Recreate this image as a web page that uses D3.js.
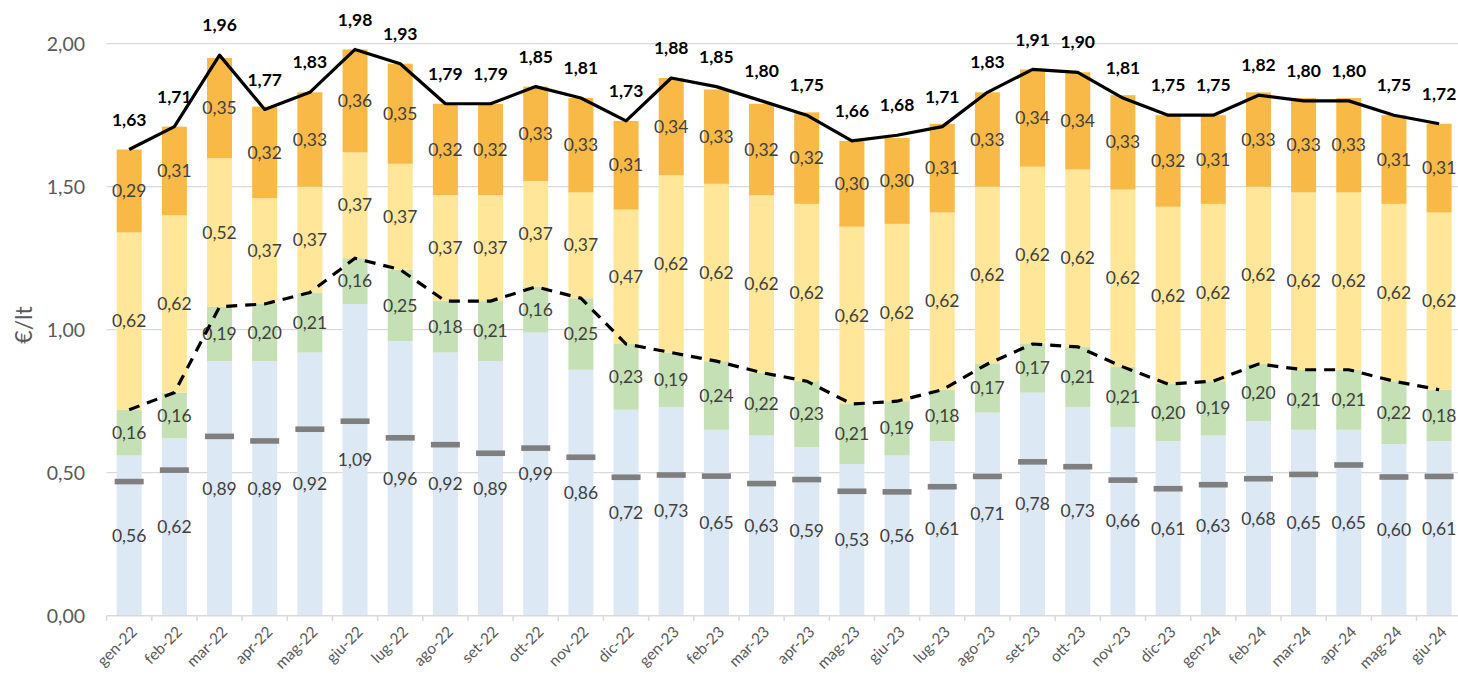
<!DOCTYPE html>
<html><head><meta charset="utf-8">
<script src="https://cdn.jsdelivr.net/npm/d3@7"></script>
<style>body{margin:0;background:#fff}svg{display:block}text{font-family:Lato,"Open Sans",sans-serif}</style>
</head><body><svg id="c" width="1458" height="688"></svg>
<script>
const categories = ["gen-22","feb-22","mar-22","apr-22","mag-22","giu-22","lug-22","ago-22","set-22","ott-22","nov-22","dic-22","gen-23","feb-23","mar-23","apr-23","mag-23","giu-23","lug-23","ago-23","set-23","ott-23","nov-23","dic-23","gen-24","feb-24","mar-24","apr-24","mag-24","giu-24"];
const blueVals = [0.56,0.62,0.89,0.89,0.92,1.09,0.96,0.92,0.89,0.99,0.86,0.72,0.73,0.65,0.63,0.59,0.53,0.56,0.61,0.71,0.78,0.73,0.66,0.61,0.63,0.68,0.65,0.65,0.60,0.61];
const greenVals = [0.16,0.16,0.19,0.20,0.21,0.16,0.25,0.18,0.21,0.16,0.25,0.23,0.19,0.24,0.22,0.23,0.21,0.19,0.18,0.17,0.17,0.21,0.21,0.20,0.19,0.20,0.21,0.21,0.22,0.18];
const yellowVals = [0.62,0.62,0.52,0.37,0.37,0.37,0.37,0.37,0.37,0.37,0.37,0.47,0.62,0.62,0.62,0.62,0.62,0.62,0.62,0.62,0.62,0.62,0.62,0.62,0.62,0.62,0.62,0.62,0.62,0.62];
const orangeVals = [0.29,0.31,0.35,0.32,0.33,0.36,0.35,0.32,0.32,0.33,0.33,0.31,0.34,0.33,0.32,0.32,0.30,0.30,0.31,0.33,0.34,0.34,0.33,0.32,0.31,0.33,0.33,0.33,0.31,0.31];
const totalVals = [1.63,1.71,1.96,1.77,1.83,1.98,1.93,1.79,1.79,1.85,1.81,1.73,1.88,1.85,1.80,1.75,1.66,1.68,1.71,1.83,1.91,1.90,1.81,1.75,1.75,1.82,1.80,1.80,1.75,1.72];
const greyVals = [0.469,0.509,0.627,0.611,0.652,0.680,0.622,0.598,0.568,0.586,0.554,0.484,0.492,0.488,0.462,0.476,0.435,0.433,0.451,0.487,0.538,0.521,0.474,0.444,0.458,0.479,0.494,0.527,0.485,0.487];
const yTicks = [0,0.5,1.0,1.5,2.0];

const fmt = v => d3.format(".2f")(v).replace(".", ",");
const svg = d3.select("#c");
const x = d3.scaleBand().domain(categories).range([106.6, 1461.7]).padding(0);
const y = d3.scaleLinear().domain([0, 2]).range([615.7, 43.7]);
const bw = 25;
const cx = c => x(c) + x.bandwidth() / 2;

// gridlines
svg.append("g").selectAll("line").data(yTicks.filter(d => d > 0)).join("line")
  .attr("x1", 106.6).attr("x2", 1458).attr("y1", d => y(d)).attr("y2", d => y(d))
  .attr("stroke", "#d9d9d9").attr("stroke-width", 1.3);

// y labels
svg.append("g").selectAll("text").data(yTicks).join("text")
  .attr("x", 85).attr("y", d => y(d)).attr("dy", "0.35em").attr("text-anchor", "end")
  .attr("font-size", 19.5).attr("fill", "#595959").text(d => fmt(d));
svg.append("text").attr("transform", "translate(32,325) rotate(-90)").attr("text-anchor", "middle")
  .attr("font-size", 23).attr("fill", "#595959").text("€/lt");

// stacked bars
const series = [
  {vals: blueVals, color: "#dde8f5"},
  {vals: greenVals, color: "#c5e0b4"},
  {vals: yellowVals, color: "#ffe699"},
  {vals: orangeVals, color: "#f9b946"}
];
const bars = svg.append("g");
const labels = svg.append("g");
categories.forEach((c, i) => {
  let base = 0;
  series.forEach(s => {
    const v = s.vals[i];
    bars.append("rect").attr("x", cx(c) - bw / 2).attr("width", bw)
      .attr("y", y(base + v)).attr("height", y(base) - y(base + v)).attr("fill", s.color);
    labels.append("text").attr("x", cx(c)).attr("y", (y(base) + y(base + v)) / 2).attr("dy", "0.35em")
      .attr("text-anchor", "middle").attr("font-size", 17.5).attr("fill", "#404040").text(fmt(v));
    base += v;
  });
});

// x axis
svg.append("line").attr("x1", 106.6).attr("x2", 1458).attr("y1", 615.7).attr("y2", 615.7)
  .attr("stroke", "#d9d9d9").attr("stroke-width", 1.5);
svg.append("g").selectAll("line").data(categories).join("line")
  .attr("x1", d => x(d)).attr("x2", d => x(d)).attr("y1", 615.7).attr("y2", 621)
  .attr("stroke", "#d9d9d9").attr("stroke-width", 1.5);
svg.append("g").selectAll("text").data(categories).join("text")
  .attr("transform", d => `translate(${cx(d) + 5},${629}) rotate(-45)`)
  .attr("text-anchor", "end").attr("dy", "0.35em").attr("font-size", 15.5).attr("fill", "#595959").text(d => d);

// grey markers
svg.append("g").selectAll("rect").data(categories).join("rect")
  .attr("x", d => cx(d) - 14.5).attr("width", 29)
  .attr("y", (d, i) => y(greyVals[i]) - 2.8).attr("height", 5.6).attr("fill", "#7f7f7f");

// dashed line (blue + green)
const lineGen = d3.line().x((d, i) => cx(categories[i])).y(d => y(d));
svg.append("path").datum(blueVals.map((v, i) => v + greenVals[i]))
  .attr("d", lineGen).attr("fill", "none").attr("stroke", "#000").attr("stroke-width", 3.2)
  .attr("stroke-dasharray", "11,8");

// total line
svg.append("path").datum(totalVals).attr("d", lineGen).attr("fill", "none")
  .attr("stroke", "#000").attr("stroke-width", 3.2).attr("stroke-linejoin", "round");
svg.append("g").selectAll("text").data(totalVals).join("text")
  .attr("x", (d, i) => cx(categories[i])).attr("y", d => y(d) - 30).attr("dy", "0.35em")
  .attr("text-anchor", "middle").attr("font-size", 17.5).attr("font-weight", "bold").attr("fill", "#000")
  .text(d => fmt(d));
</script></body></html>
